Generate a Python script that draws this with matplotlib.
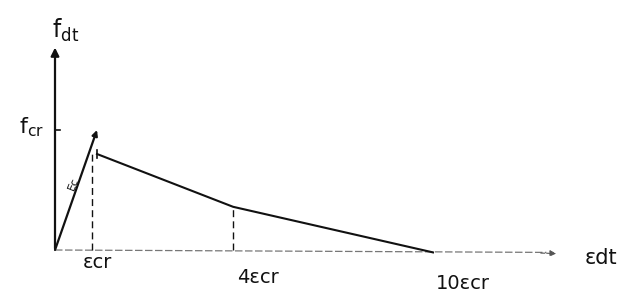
import numpy as np
import matplotlib.pyplot as plt

# strain in units of eps_cr (as sketched, not to scale), stress in units of f_cr
elastic_x = [0.0, 1.0]
elastic_y = [0.0, 1.0]
soft_x = [1.0, 4.24, 9.0]
soft_y = [0.8, 0.36, -0.02]
dash_x = [0.88, 4.24]
dash_top = [0.8, 0.36]
tick_labels = ["εcr", "4εcr", "10εcr"]
label_x = [1.0, 4.83, 9.71]
label_y = [-0.1, -0.23, -0.28]
x_end = 12.0
y_end = 1.71

fig = plt.figure(figsize=(6.21, 2.94), dpi=100)
ax = fig.add_axes([0, 0, 1, 1])
ax.set_xlim(-55 / 42, (621 - 55) / 42)
ax.set_ylim(-(294 - 250) / 120, 250 / 120)
ax.axis("off")

ink = "#111111"

# y axis with arrow
ax.annotate("", xy=(0, y_end), xytext=(0, -0.01),
            arrowprops=dict(arrowstyle="-|>", color=ink, lw=1.6, mutation_scale=12))
# x axis (faint dashed) with arrow
ax.plot([0, x_end - 0.3], [0, -0.02], color="#777777", lw=0.9, ls=(0, (6, 2)))
ax.annotate("", xy=(x_end, -0.03), xytext=(x_end - 0.5, -0.025),
            arrowprops=dict(arrowstyle="-|>", color="#555555", lw=0.8, ls="--", mutation_scale=9))

# f_cr tick
ax.plot([0, 0.12], [1.0, 1.0], color=ink, lw=1.2)

# elastic branch (with small arrowhead at peak) and softening branch
ax.annotate("", xy=(elastic_x[1], elastic_y[1]), xytext=(elastic_x[0], elastic_y[0]),
            arrowprops=dict(arrowstyle="-|>", color=ink, lw=1.6, mutation_scale=8,
                            shrinkA=0, shrinkB=0))
ax.plot(soft_x, soft_y, color=ink, lw=1.5)
ax.plot([soft_x[0], soft_x[0]], [soft_y[0] - 0.03, soft_y[0] + 0.03], color=ink, lw=1.2)

# dashed drop lines
for xd, yt in zip(dash_x, dash_top):
    ax.plot([xd, xd], [0, yt], color=ink, lw=1.0, ls=(0, (5, 3)))

for lab, lx, ly in zip(tick_labels, label_x, label_y):
    ax.text(lx, ly, lab, ha="center", va="center", fontsize=14, color=ink)

ax.text(0.25, 1.83, r"$\mathrm{f_{dt}}$", ha="center", va="center", fontsize=17, color=ink)
ax.text(-0.55, 1.02, r"$\mathrm{f_{cr}}$", ha="center", va="center", fontsize=16, color=ink)
ax.text(13.0, -0.07, "εdt", ha="center", va="center", fontsize=15, color=ink)
ax.text(0.45, 0.55, "Ec", ha="center", va="center", fontsize=8, color=ink, rotation=68)

fig.savefig("out.png", dpi=100)
